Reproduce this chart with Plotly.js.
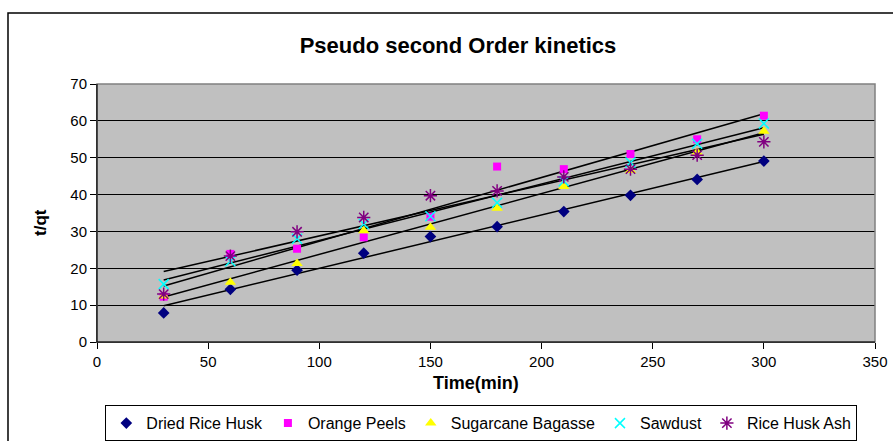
<!DOCTYPE html>
<html>
<head>
<meta charset="utf-8">
<script src="https://cdn.plot.ly/plotly-3.0.1.min.js"></script>
<style>html,body{margin:0;padding:0;background:#fff;}#chart{width:893px;height:441px;}</style>
</head>
<body>
<div id="chart"></div>
<script>
const time = [30, 60, 90, 120, 150, 180, 210, 240, 270, 300];
const driedRiceHusk = [7.9, 14.3, 19.5, 24.1, 28.6, 31.3, 35.4, 39.8, 44.1, 49.1];
const orangePeels = [12.3, 23.9, 25.3, 28.4, 34.0, 47.6, 46.9, 51.0, 55.0, 61.4];
const sugarcaneBagasse = [12.5, 16.2, 21.3, 30.2, 31.1, 36.3, 42.2, 46.5, 51.5, 57.2];
const sawdust = [15.7, 21.9, 28.0, 32.0, 34.1, 37.8, 43.6, 48.7, 53.8, 59.3];
const riceHuskAsh = [13.0, 23.3, 29.9, 33.8, 39.7, 41.0, 44.8, 46.9, 50.7, 54.3];

const seriesNames = ["Dried Rice Husk", "Orange Peels", "Sugarcane Bagasse", "Sawdust", "Rice Husk Ash"];
const seriesValues = [driedRiceHusk, orangePeels, sugarcaneBagasse, sawdust, riceHuskAsh];
const seriesColors = ["#000080", "#FF00FF", "#FFFF00", "#00FFFF", "#800080"];
const seriesSymbols = ["diamond", "square", "triangle-up", "x-thin-open", "asterisk-open"];
const seriesSizes = [9, 8, 10, 10, 11];

function linFit(xs, ys) {
  const n = xs.length;
  let sx = 0, sy = 0, sxx = 0, sxy = 0;
  for (let i = 0; i < n; i++) { sx += xs[i]; sy += ys[i]; sxx += xs[i]*xs[i]; sxy += xs[i]*ys[i]; }
  const m = (n*sxy - sx*sy) / (n*sxx - sx*sx);
  const b = (sy - m*sx) / n;
  return [m, b];
}

const traces = [];
seriesValues.forEach((vals, i) => {
  const [m, b] = linFit(time, vals);
  const x0 = time[0], x1 = time[time.length-1];
  traces.push({
    x: [x0, x1], y: [m*x0+b, m*x1+b], mode: 'lines', type: 'scatter',
    line: {color: '#000000', width: 1.5}, showlegend: false, hoverinfo: 'skip'
  });
});
seriesValues.forEach((vals, i) => {
  const isLine = seriesSymbols[i].indexOf('open') >= 0;
  traces.push({
    x: time, y: vals, mode: 'markers', type: 'scatter', name: seriesNames[i],
    marker: {
      symbol: seriesSymbols[i], size: seriesSizes[i], color: seriesColors[i],
      line: isLine ? {color: seriesColors[i], width: 1.5} : {width: 0}
    }
  });
});

const fontFam = '"Liberation Sans", Arial, sans-serif';
const layout = {
  width: 893, height: 441,
  margin: {l: 97, r: 18, t: 84, b: 99, autoexpand: false},
  paper_bgcolor: '#ffffff', plot_bgcolor: '#C0C0C0',
  font: {family: fontFam, color: '#000000', size: 15},
  title: {text: '<b>Pseudo second Order kinetics</b>', font: {size: 22, family: fontFam},
          xref: 'paper', x: 0.464, xanchor: 'center', y: 0.898, yanchor: 'middle'},
  xaxis: {range: [0, 350], dtick: 50, tick0: 0, showgrid: false, zeroline: false,
          showline: true, linecolor: '#000000', linewidth: 1, ticks: 'outside', ticklen: 6,
          tickcolor: '#000000', tickfont: {size: 15}},
  yaxis: {range: [0, 70], dtick: 10, tick0: 0, showgrid: true, gridcolor: '#000000', gridwidth: 1,
          zeroline: false, showline: true, linecolor: '#000000', linewidth: 1, ticks: 'outside',
          ticklen: 6, tickcolor: '#000000', tickfont: {size: 15}},
  showlegend: true,
  legend: {orientation: 'h', x: 0.494, xanchor: 'center', y: -0.245, yanchor: 'top',
           bordercolor: '#000000', borderwidth: 1, bgcolor: '#ffffff',
           font: {size: 16, family: fontFam}, itemwidth: 30, tracegroupgap: 0},
  annotations: [
    {text: '<b>Time(min)</b>', xref: 'paper', yref: 'paper', x: 0.487, y: -0.159,
     xanchor: 'center', yanchor: 'middle', showarrow: false, font: {size: 18, family: fontFam}},
    {text: '<b>t/qt</b>', xref: 'paper', yref: 'paper', x: -0.0733, y: 0.465,
     xanchor: 'center', yanchor: 'middle', showarrow: false, textangle: -90, font: {size: 17, family: fontFam}}
  ],
  shapes: [
    {type: 'rect', xref: 'paper', yref: 'paper', x0: 0, x1: 1, y0: 0, y1: 1,
     line: {color: '#808080', width: 1.5}, layer: 'above'},
    {type: 'line', xref: 'paper', yref: 'paper', x0: 0, x1: 1, y0: 0, y1: 0,
     line: {color: '#000000', width: 1}, layer: 'above'},
    {type: 'line', xref: 'paper', yref: 'paper', x0: 0, x1: 0, y0: 0, y1: 1,
     line: {color: '#000000', width: 1}, layer: 'above'},
    {type: 'rect', xref: 'paper', yref: 'paper', x0: -0.1144, x1: 1.04, y0: 1.275, y1: -0.6,
     line: {color: '#000000', width: 1.5}, layer: 'below'}
  ]
};

Plotly.newPlot('chart', traces, layout, {displayModeBar: false, staticPlot: true});
</script>
</body>
</html>
